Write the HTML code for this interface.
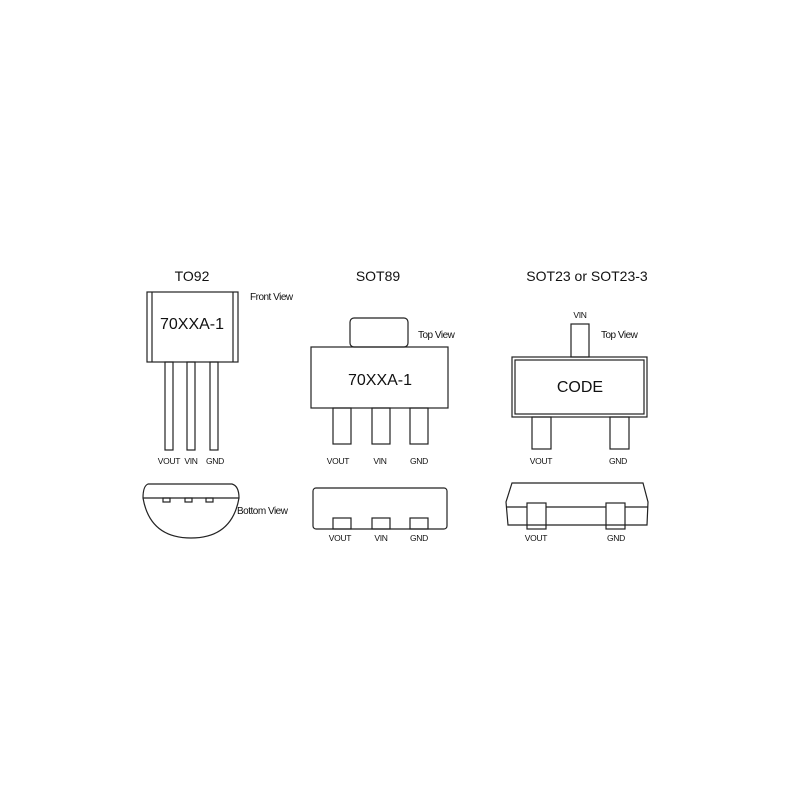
<!DOCTYPE html>
<html><head><style>body{margin:0;background:#fff}</style></head><body>
<svg width="800" height="800" xmlns="http://www.w3.org/2000/svg" font-family="Liberation Sans, Arial, sans-serif">
<rect width="800" height="800" fill="#fff"/>
<g fill="none" stroke="#222" stroke-width="1.2">
<!-- TO92 -->
<rect x="147" y="292" width="91" height="70"/>
<line x1="152" y1="292" x2="152" y2="362"/><line x1="233" y1="292" x2="233" y2="362"/>
<rect x="165" y="362" width="8" height="88"/>
<rect x="187" y="362" width="8" height="88"/>
<rect x="210" y="362" width="8" height="88"/>
<path d="M148 484 L232 484 Q239 486 239 498 Q232 538 191 538 Q150 538 143 498 Q143 486 148 484 Z"/>
<line x1="143" y1="498" x2="239" y2="498"/>
<rect x="163" y="498" width="7" height="4"/><rect x="185" y="498" width="7" height="4"/><rect x="206" y="498" width="7" height="4"/>
<!-- SOT89 -->
<rect x="350" y="318" width="58" height="29" rx="4"/>
<rect x="311" y="347" width="137" height="61"/>
<rect x="333" y="408" width="18" height="36"/><rect x="372" y="408" width="18" height="36"/><rect x="410" y="408" width="18" height="36"/>
<rect x="313" y="488" width="134" height="41" rx="3"/>
<rect x="333" y="518" width="18" height="11"/><rect x="372" y="518" width="18" height="11"/><rect x="410" y="518" width="18" height="11"/>
<!-- SOT23 -->
<rect x="571" y="324" width="18" height="33"/>
<rect x="512" y="357" width="135" height="60"/>
<rect x="515" y="360" width="129" height="54"/>
<rect x="532" y="417" width="19" height="32"/><rect x="610" y="417" width="19" height="32"/>
<path d="M512 483 L643 483 L648 502 L647 525 L508 525 L506 502 Z"/>
<line x1="506" y1="507" x2="648" y2="507"/>
<rect x="527" y="503" width="19" height="26" fill="#fff"/><rect x="606" y="503" width="19" height="26" fill="#fff"/>
<line x1="527" y1="525" x2="546" y2="525"/><line x1="606" y1="525" x2="625" y2="525"/>
</g>
<g fill="#111">
<text x="192" y="281" font-size="14" text-anchor="middle">TO92</text>
<text x="378" y="281" font-size="14" text-anchor="middle">SOT89</text>
<text x="587" y="281" font-size="14" text-anchor="middle">SOT23 or SOT23-3</text>
<text x="192" y="329" font-size="16" text-anchor="middle">70XXA-1</text>
<text x="380" y="385" font-size="16" text-anchor="middle">70XXA-1</text>
<text x="580" y="392" font-size="16" text-anchor="middle">CODE</text>
<g font-size="10" letter-spacing="-0.5">
<text x="250" y="300">Front View</text>
<text x="237" y="514">Bottom View</text>
<text x="418" y="338">Top View</text>
<text x="601" y="338">Top View</text>
</g>
<g font-size="8.5" text-anchor="middle" letter-spacing="-0.3">
<text x="169" y="464">VOUT</text><text x="191" y="464">VIN</text><text x="215" y="464">GND</text>
<text x="338" y="464">VOUT</text><text x="380" y="464">VIN</text><text x="419" y="464">GND</text>
<text x="541" y="464">VOUT</text><text x="618" y="464">GND</text>
<text x="580" y="318">VIN</text>
<text x="340" y="541">VOUT</text><text x="381" y="541">VIN</text><text x="419" y="541">GND</text>
<text x="536" y="541">VOUT</text><text x="616" y="541">GND</text>
</g>
</g>
</svg>
</body></html>
